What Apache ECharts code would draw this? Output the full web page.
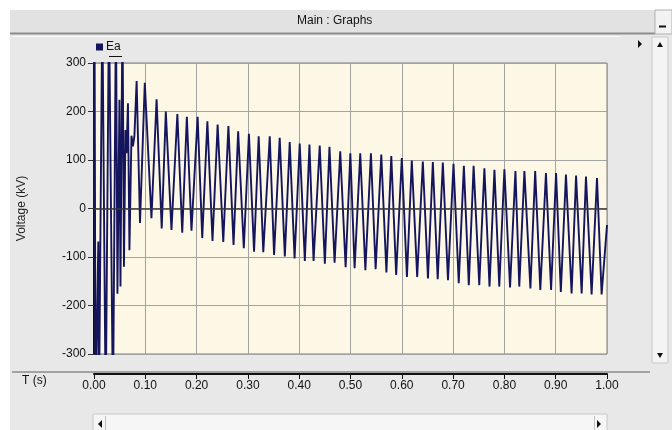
<!DOCTYPE html>
<html>
<head>
<meta charset="utf-8">
<script src="https://cdn.jsdelivr.net/npm/echarts@6/dist/echarts.min.js"></script>
<style>html,body{margin:0;padding:0;background:#fff}#c{width:672px;height:430px}</style>
</head>
<body>
<div id="c"></div>
<script>
// Time (s) of each extreme / turning point of the Ea trace
const times = [
  0.000, 0.001, 0.003, 0.0084, 0.0097, 0.0162, 0.0228, 0.0292, 0.037, 0.0428,
  0.0457, 0.0496, 0.0516, 0.0555, 0.0584, 0.0613, 0.0633, 0.0662, 0.0691, 0.073,
  0.0759, 0.0788, 0.0831, 0.0897,
  0.099, 0.112, 0.122, 0.132, 0.140, 0.151, 0.1625, 0.172, 0.181, 0.190,
  0.202, 0.211, 0.221, 0.231, 0.241, 0.252, 0.262, 0.272, 0.281, 0.292,
  0.302, 0.312, 0.321, 0.330, 0.3426, 0.351, 0.362, 0.372, 0.3815, 0.391,
  0.401, 0.411, 0.420, 0.428, 0.440, 0.450, 0.459, 0.469, 0.480, 0.4905,
  0.4997, 0.508, 0.519, 0.529, 0.5398, 0.549, 0.560, 0.570, 0.5795, 0.589,
  0.600, 0.610, 0.6195, 0.630, 0.641, 0.651, 0.6605, 0.670, 0.680, 0.690,
  0.7008, 0.711, 0.721, 0.7306, 0.740, 0.751, 0.761, 0.771, 0.7806, 0.790,
  0.800, 0.811, 0.8215, 0.829, 0.839, 0.8507, 0.860, 0.870, 0.881, 0.891,
  0.9007, 0.910, 0.920, 0.931, 0.9397, 0.9506, 0.959, 0.970, 0.9805, 0.9895,
  1.000
];
// Voltage (kV) at those points (values beyond +/-300 are clipped by the axes, as in the picture)
const voltages = [
  0, 420, -420, -68, -420, 420, -420, 420, -420, 420,
  -176, 224, -161, 420, -120, 162, 114, 217, -86, 150,
  128, 150, 263, -30,
  259, -20, 225, -41, 200, -44, 195, -50, 189, -46,
  189, -61, 180, -67, 173, -69, 170, -75, 159, -82,
  154, -89, 149, -90, 149, -96, 146, -99, 137, -103,
  134, -108, 132, -108, 130, -114, 127, -112, 118, -121,
  114, -123, 114, -127, 114, -125, 111, -132, 108, -137,
  104, -141, 99, -141, 97, -144, 96, -146, 95, -148,
  92, -154, 88, -158, 88, -158, 83, -161, 80, -161,
  81, -163, 77, -161, 77, -165, 77, -168, 73, -168,
  73, -172, 70, -175, 68, -175, 66, -177, 63, -177,
  -34
];
const seriesName = 'Ea';
const yTicks = [-300, -200, -100, 0, 100, 200, 300];
const xTickLabels = ['0.00','0.10','0.20','0.30','0.40','0.50','0.60','0.70','0.80','0.90','1.00'];

const FONT = '"Liberation Sans Narrow", "Liberation Sans", Arial, sans-serif';
const chart = echarts.init(document.getElementById('c'), null, {renderer: 'canvas'});
const data = times.map((t, i) => [t, voltages[i]]);

chart.setOption({
  backgroundColor: '#ffffff',
  animation: false,
  graphic: [
    {type: 'rect', z: -10, shape: {x: 10, y: 10, width: 662, height: 420}, style: {fill: '#e8e8e8'}},
    {type: 'rect', z: -9, shape: {x: 10, y: 10, width: 645, height: 23}, style: {fill: '#e2e2e2'}},
    {type: 'line', z: -8, shape: {x1: 10, y1: 33.5, x2: 655, y2: 33.5}, style: {stroke: '#8c8c8c', lineWidth: 2}},
    {type: 'line', z: -8, shape: {x1: 12, y1: 36.5, x2: 620, y2: 36.5}, style: {stroke: '#f8f8f8', lineWidth: 1}},
    {type: 'text', left: 297, top: 15, style: {text: 'Main : Graphs', font: '12px ' + FONT, fill: '#111'}},
    // minimise button
    {type: 'rect', shape: {x: 655, y: 10, width: 17, height: 24}, style: {fill: '#f2f2f2', stroke: '#b0b0b0', lineWidth: 1}},
    {type: 'line', shape: {x1: 659, y1: 26.5, x2: 666, y2: 26.5}, style: {stroke: '#111', lineWidth: 2}},
    // right scrollbar
    {type: 'rect', shape: {x: 652, y: 37, width: 16, height: 326}, style: {fill: '#f4f4f4', stroke: '#c8c8c8', lineWidth: 1}},
    {type: 'polygon', shape: {points: [[657, 47], [663, 47], [660, 42]]}, style: {fill: '#111'}},
    {type: 'polygon', shape: {points: [[657, 353], [663, 353], [660, 358]]}, style: {fill: '#111'}},
    {type: 'polygon', shape: {points: [[638, 40], [638, 48], [642, 44]]}, style: {fill: '#111'}},
    // bottom separator of plot panel
    {type: 'line', shape: {x1: 12, y1: 372, x2: 650, y2: 372}, style: {stroke: '#8c8c8c', lineWidth: 1.5}},
    {type: 'text', left: 22, top: 375, style: {text: 'T (s)', font: '12px ' + FONT, fill: '#111'}},
    // bottom scrollbar
    {type: 'rect', shape: {x: 93, y: 414, width: 514, height: 17}, style: {fill: '#f6f6f6', stroke: '#c8c8c8', lineWidth: 1}},
    {type: 'line', shape: {x1: 105.5, y1: 416, x2: 105.5, y2: 430}, style: {stroke: '#c0c0c0', lineWidth: 1}},
    {type: 'line', shape: {x1: 594.5, y1: 416, x2: 594.5, y2: 430}, style: {stroke: '#c0c0c0', lineWidth: 1}},
    {type: 'polygon', shape: {points: [[102, 420], [102, 428], [98, 424]]}, style: {fill: '#111'}},
    {type: 'polygon', shape: {points: [[597, 420], [597, 428], [601, 424]]}, style: {fill: '#111'}},
    // legend underline
    {type: 'line', shape: {x1: 109, y1: 56.5, x2: 122, y2: 56.5}, style: {stroke: '#111', lineWidth: 1}}
  ],
  legend: {
    left: 96, top: 41, padding: 0, itemGap: 4,
    icon: 'rect', itemWidth: 7, itemHeight: 7,
    textStyle: {fontFamily: FONT, fontSize: 12, color: '#111', padding: [0, 0, 0, -2]},
    data: [seriesName]
  },
  grid: {
    left: 94, right: 65, top: 63, bottom: 76,
    show: true, backgroundColor: '#fdf8e5', borderColor: '#7c7c7c', borderWidth: 1
  },
  xAxis: {
    type: 'value', min: 0, max: 1, interval: 0.1,
    offset: 20,
    axisLine: {show: true, onZero: false, lineStyle: {color: '#111', width: 2}},
    axisTick: {show: true, length: 5, lineStyle: {color: '#111', width: 1}},
    axisLabel: {
      margin: 6, fontFamily: FONT, fontSize: 12, color: '#111',
      formatter: (v) => xTickLabels[Math.round(v * 10)]
    },
    splitLine: {show: true, lineStyle: {color: '#a2a2a2', width: 1}}
  },
  yAxis: {
    type: 'value', min: yTicks[0], max: yTicks[yTicks.length - 1], interval: 100,
    name: 'Voltage (kV)', nameLocation: 'middle', nameGap: 66, nameRotate: 90,
    nameTextStyle: {fontFamily: '"Liberation Sans", Arial, sans-serif', fontSize: 12, color: '#222'},
    axisLine: {show: true, onZero: false, lineStyle: {color: '#111', width: 2}},
    axisTick: {show: true, length: 6, lineStyle: {color: '#333', width: 1}},
    axisLabel: {margin: 8, fontFamily: FONT, fontSize: 12, color: '#111'},
    splitLine: {show: true, lineStyle: {color: '#a2a2a2', width: 1}}
  },
  series: [{
    name: seriesName,
    type: 'line',
    data: data,
    showSymbol: false,
    clip: true,
    color: '#15155e',
    lineStyle: {color: '#15155e', width: 1.9},
    markLine: {
      silent: true, symbol: 'none', label: {show: false},
      lineStyle: {color: '#3a3a3a', width: 1.5, type: 'solid'},
      data: [{yAxis: 0}]
    },
    z: 3
  }]
});
</script>
</body>
</html>
